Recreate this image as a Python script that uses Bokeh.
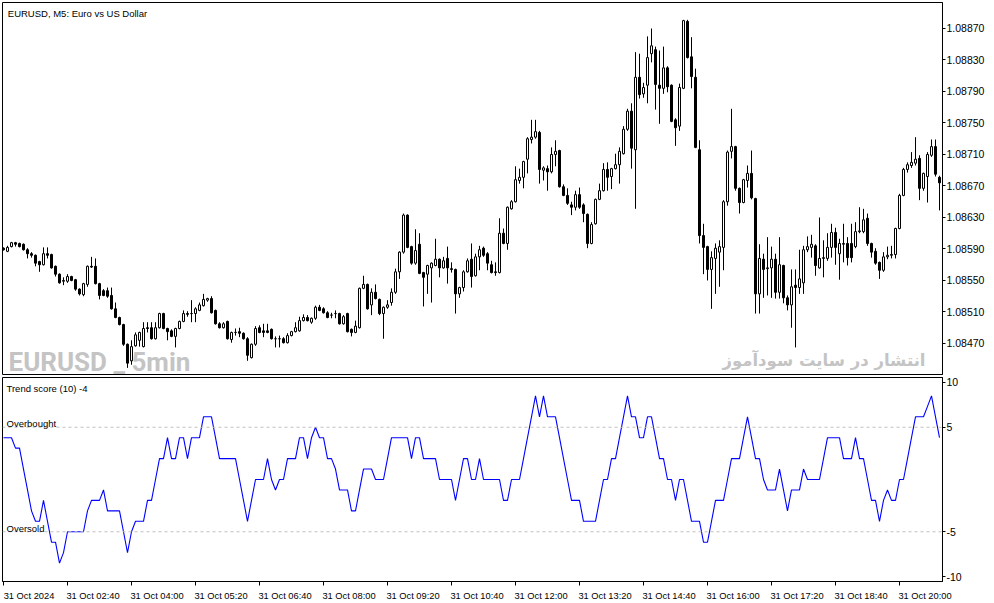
import numpy as np
from bokeh.plotting import figure
from bokeh.layouts import column
from bokeh.models import Range1d, FixedTicker, PrintfTickFormatter, Label, Span
from bokeh.embed import file_html
from bokeh.resources import INLINE

# ---------------- data (prices in points, 1 point = 0.00001) ----------------
open_pts = [108591,108587,108593,108598,108597,108596,108589,108584,108582,108574,
108570,108584,108583,108568,108558,108549,108549,108555,108551,108539,
108532,108545,108568,108568,108546,108537,108537,108531,108514,108503,
108494,108469,108448,108467,108474,108466,108490,108490,108476,108490,
108508,108489,108486,108479,108489,108498,108508,108508,108508,108512,
108518,108525,108527,108512,108495,108490,108498,108475,108484,108485,
108483,108476,108452,108469,108490,108486,108486,108488,108476,108476,
108476,108471,108480,108485,108486,108499,108503,108497,108502,108516,
108514,108509,108506,108508,108508,108495,108508,108488,108484,108490,
108540,108545,108519,108535,108526,108508,108516,108522,108535,108561,
108586,108633,108593,108572,108596,108560,108558,108566,108569,108577,
108566,108578,108565,108564,108533,108541,108561,108577,108556,108580,
108591,108584,108570,108561,108560,108610,108597,108641,108650,108677,
108681,108704,108729,108732,108738,108690,108692,108688,108710,108715,
108669,108658,108646,108643,108659,108646,108634,108597,108622,108653,
108664,108691,108682,108692,108697,108711,108742,108765,108716,108808,
108787,108798,108838,108843,108798,108794,108820,108798,108754,108746,
108794,108879,108834,108808,108716,108607,108593,108564,108578,108586,
108592,108650,108714,108720,108667,108649,108677,108686,108654,108533,
108577,108565,108566,108577,108535,108569,108528,108519,108544,108541,
108547,108589,108592,108594,108566,108578,108578,108592,108611,108584,
108596,108597,108597,108593,108612,108612,108629,108597,108587,108573,
108563,108580,108582,108583,108616,108658,108691,108696,108699,108705,
108667,108682,108709,108720,108681]

high_pts = [108592,108594,108599,108599,108598,108597,108591,108586,108583,108575,
108592,108592,108584,108569,108559,108554,108558,108556,108552,108540,
108547,108569,108580,108578,108547,108539,108541,108541,108522,108504,
108495,108470,108474,108484,108485,108497,108497,108497,108497,108509,
108509,108490,108488,108490,108499,108512,108511,108525,108516,108522,
108533,108528,108530,108513,108497,108497,108499,108485,108489,108490,
108484,108478,108470,108492,108493,108495,108495,108489,108479,108480,
108478,108483,108486,108497,108504,108507,108506,108503,108518,108519,
108516,108511,108509,108512,108509,108506,108509,108489,108499,108541,
108556,108546,108540,108545,108527,108517,108525,108540,108565,108587,
108635,108634,108594,108615,108610,108561,108570,108573,108603,108578,
108580,108593,108573,108565,108542,108563,108578,108597,108584,108594,
108593,108586,108575,108573,108629,108616,108644,108652,108695,108692,
108702,108732,108754,108754,108740,108695,108696,108719,108728,108716,
108672,108667,108650,108664,108668,108648,108635,108624,108654,108673,
108699,108700,108693,108711,108719,108746,108768,108775,108840,108838,
108801,108860,108870,108847,108842,108847,108822,108799,108756,108800,
108881,108881,108859,108819,108728,108622,108594,108587,108597,108601,
108652,108715,108768,108721,108668,108679,108696,108715,108655,108596,
108584,108605,108593,108584,108605,108570,108531,108564,108564,108589,
108594,108606,108608,108596,108630,108601,108610,108622,108617,108603,
108622,108605,108622,108624,108643,108641,108635,108598,108591,108574,
108586,108593,108594,108617,108660,108693,108700,108713,108732,108709,
108687,108713,108729,108729,108683]

low_pts = [108588,108586,108592,108593,108592,108588,108578,108579,108568,108561,
108569,108578,108565,108555,108546,108544,108547,108549,108537,108531,
108530,108542,108566,108545,108526,108530,108528,108513,108502,108493,
108467,108439,108443,108466,108466,108465,108484,108475,108475,108489,
108488,108474,108478,108465,108488,108497,108504,108497,108497,108511,
108517,108523,108508,108494,108489,108489,108475,108471,108480,108478,
108475,108448,108451,108467,108483,108478,108483,108475,108465,108465,
108470,108470,108479,108484,108485,108498,108498,108495,108500,108511,
108508,108502,108502,108502,108494,108494,108484,108479,108483,108489,
108539,108513,108506,108526,108506,108476,108514,108518,108533,108552,
108584,108591,108570,108570,108558,108517,108533,108522,108568,108554,
108565,108546,108560,108508,108528,108536,108560,108541,108555,108563,
108580,108563,108559,108556,108559,108596,108589,108640,108649,108673,
108667,108686,108724,108730,108673,108677,108664,108686,108695,108668,
108657,108646,108633,108639,108641,108624,108591,108596,108621,108652,
108663,108664,108666,108691,108673,108710,108740,108692,108641,108781,
108782,108775,108827,108767,108749,108787,108789,108751,108721,108740,
108793,108832,108794,108718,108597,108558,108550,108514,108533,108542,
108563,108645,108705,108664,108635,108648,108668,108653,108508,108508,
108528,108531,108528,108527,108527,108521,108512,108490,108465,108533,
108533,108586,108579,108556,108565,108554,108575,108579,108570,108551,
108573,108569,108573,108591,108610,108610,108594,108579,108570,108552,
108561,108577,108578,108578,108615,108657,108687,108693,108696,108652,
108664,108649,108707,108682,108639]

close_pts = [108589,108592,108598,108596,108593,108589,108584,108582,108572,108570,
108584,108582,108566,108558,108547,108550,108555,108550,108539,108533,
108546,108568,108567,108546,108531,108531,108530,108514,108503,108494,
108469,108445,108466,108481,108484,108489,108489,108476,108490,108508,
108489,108485,108479,108489,108498,108508,108507,108508,108514,108519,
108526,108527,108509,108495,108490,108495,108476,108484,108484,108483,
108476,108455,108469,108489,108484,108484,108484,108476,108476,108476,
108471,108480,108485,108490,108499,108503,108499,108502,108516,108512,
108509,108503,108506,108508,108495,108504,108485,108484,108492,108540,
108545,108514,108535,108527,108508,108516,108519,108535,108561,108586,
108633,108592,108572,108588,108559,108554,108569,108572,108577,108566,
108575,108566,108564,108533,108541,108561,108575,108555,108580,108589,
108582,108572,108560,108560,108610,108597,108643,108650,108678,108681,
108701,108730,108732,108739,108691,108693,108688,108710,108714,108669,
108658,108648,108643,108659,108643,108635,108597,108621,108653,108664,
108691,108681,108692,108697,108714,108742,108765,108718,108808,108786,
108795,108833,108848,108799,108794,108820,108796,108752,108744,108795,
108880,108833,108809,108719,108607,108592,108564,108579,108591,108593,
108650,108713,108720,108667,108649,108678,108686,108655,108533,108578,
108564,108566,108577,108535,108570,108528,108519,108542,108541,108552,
108589,108593,108596,108569,108578,108579,108592,108611,108592,108597,
108597,108579,108579,108612,108613,108627,108597,108586,108572,108563,
108580,108582,108583,108616,108658,108691,108697,108700,108704,108667,
108686,108710,108720,108685,108674]

trend_score = [4,4,4,3,3,1,-1,-3,-4,-4,
-2,-4,-6,-6,-8,-7,-5,-5,-5,-5,
-5,-3,-2,-2,-2,-1,-3,-3,-3,-3,
-5,-7,-5,-4,-4,-4,-2,-2,0,2,
2,4,2,2,4,4,2,4,4,4,
6,6,6,4,2,2,2,2,2,0,
-2,-4,-2,0,0,0,2,0,-1,0,
0,2,2,2,4,4,2,4,5,4,
4,2,2,1,-1,-1,-1,-3,-3,-1,
1,1,1,0,0,0,2,4,4,4,
4,4,2,4,4,2,2,2,2,0,
0,0,0,-2,0,2,2,0,0,2,
0,0,0,0,0,-2,-2,0,0,0,
2,4,6,8,6,8,6,6,6,4,
2,0,-2,-2,-2,-4,-4,-4,-4,-2,
0,0,2,2,4,6,8,6,6,4,
4,6,6,4,2,2,0,0,-2,0,
0,-2,-4,-4,-4,-6,-6,-4,-2,-2,
-2,0,2,2,2,4,6,4,2,2,
0,-1,-1,-1,1,-1,-3,-1,-1,-1,
1,0,0,0,0,2,4,4,4,4,
2,2,2,4,2,2,0,-2,-2,-4,
-2,-1,-2,-2,0,0,2,4,6,6,
6,7,8,6,4]

time_labels = ["31 Oct 2024", "31 Oct 02:40", "31 Oct 04:00", "31 Oct 05:20",
               "31 Oct 06:40", "31 Oct 08:00", "31 Oct 09:20", "31 Oct 10:40",
               "31 Oct 12:00", "31 Oct 13:20", "31 Oct 14:40", "31 Oct 16:00",
               "31 Oct 17:20", "31 Oct 18:40", "31 Oct 20:00"]
bars_per_label = 16
price_ticks = [1.08470, 1.08510, 1.08550, 1.08590, 1.08630, 1.08670,
               1.08710, 1.08750, 1.08790, 1.08830, 1.08870]
overbought, oversold = 5, -5
score_scale_labels = {9.29: "10", 5: "5", -5: "-5", -9.29: "-10"}

title_text = "EURUSD, M5:  Euro vs US Dollar"
indicator_text = "Trend score (10) -4"
watermark_en = "EURUSD _ 5min"
watermark_fa = "انتشار در سایت سودآموز"

# ---------------- build ----------------
o = np.array(open_pts) / 1e5
h = np.array(high_pts) / 1e5
l = np.array(low_pts) / 1e5
c = np.array(close_pts) / 1e5
idx = np.arange(len(o))
up = c >= o
n = len(o)

FONT = "Liberation Sans"
W = 994
xr = Range1d(-0.25, n - 0.25)
# time labels start at their tick (MT style): the axis centres its labels,
# so they are placed half a label width (in bars) right of the tick
LABEL_SHIFT = 6.375


def style_frame(p):
    p.grid.visible = False
    p.outline_line_color = "black"
    p.outline_line_alpha = 1
    p.background_fill_color = "white"
    p.border_fill_color = "white"


def style_right_axis(ax):
    ax.major_label_text_font = FONT
    ax.major_label_text_font_size = "10.5px"
    ax.major_label_text_color = "black"
    ax.major_tick_out = 3
    ax.major_tick_in = 0
    ax.minor_tick_out = 0
    ax.minor_tick_in = 0
    ax.major_label_standoff = 1
    ax.axis_line_color = "black"
    ax.major_tick_line_color = "black"


# ---- main price panel ----
p1 = figure(width=W, height=375, x_range=xr, y_range=Range1d(1.084306, 1.089030),
            output_backend="svg", toolbar_location=None, tools="",
            x_axis_location=None, y_axis_location="right",
            min_border_left=2, min_border_right=52, min_border_top=2, min_border_bottom=1)
style_frame(p1)

p1.add_layout(Label(x=6, y=12.5, x_units="screen", y_units="screen", text=watermark_en,
                    text_font="Roboto", text_font_style="bold", text_font_size="26px",
                    text_color="#c4c4c4", text_baseline="alphabetic", level="underlay"))
p1.add_layout(Label(x=923, y=14, x_units="screen", y_units="screen", text=watermark_fa,
                    text_font="DejaVu Sans", text_font_style="bold", text_font_size="16.5px",
                    text_color="#c4c4c4", text_align="right", text_baseline="alphabetic",
                    level="underlay"))

p1.segment(x0=idx, y0=l, x1=idx, y1=h, line_color="black", line_width=1)
p1.vbar(x=idx[up], width=0.5, bottom=o[up], top=c[up], fill_color="white",
        line_color="black", line_width=1)
p1.vbar(x=idx[~up], width=0.5, bottom=o[~up], top=c[~up], fill_color="black",
        line_color="black", line_width=1)

ya = p1.yaxis[0]
ya.ticker = FixedTicker(ticks=price_ticks)
ya.formatter = PrintfTickFormatter(format="%.5f")
style_right_axis(ya)

p1.add_layout(Label(x=5.3, y=361.3, x_units="screen", y_units="screen", text=title_text,
                    text_font=FONT, text_font_size="9.5px", text_color="black",
                    text_baseline="alphabetic"))

# ---- indicator panel with the time scale ----
p2 = figure(width=W, height=228, x_range=xr, y_range=Range1d(-9.76, 9.76),
            output_backend="svg", toolbar_location=None, tools="",
            x_axis_location="below", y_axis_location="right",
            min_border_left=2, min_border_right=52, min_border_top=2, min_border_bottom=21)
style_frame(p2)

for lev in (overbought, oversold):
    p2.add_layout(Span(location=lev, dimension="width", line_color="#c0c0c0",
                       line_dash="3 3", line_width=1))

p2.line(idx, trend_score, line_color="#0000ff", line_width=1.1)

ya2 = p2.yaxis[0]
ya2.ticker = FixedTicker(ticks=list(score_scale_labels.keys()))
ya2.major_label_overrides = score_scale_labels
style_right_axis(ya2)

for txt, yy in ((indicator_text, 192.7), ("Overbought", 157.7), ("Oversold", 52.7)):
    p2.add_layout(Label(x=4, y=yy, x_units="screen", y_units="screen", text=txt,
                        text_font=FONT, text_font_size="9.5px", text_color="black",
                        text_baseline="alphabetic"))

tick_bars = [k * bars_per_label for k in range(len(time_labels))]
label_pos = [tb + LABEL_SHIFT for tb in tick_bars]
xa = p2.xaxis[0]
xa.ticker = FixedTicker(ticks=label_pos, minor_ticks=tick_bars)
xa.major_label_overrides = dict(zip(label_pos, time_labels))
xa.major_tick_out = 0
xa.major_tick_in = 0
xa.major_tick_line_color = None
xa.minor_tick_out = 4
xa.minor_tick_in = 0
xa.minor_tick_line_color = "black"
xa.axis_line_color = "black"
xa.major_label_text_font = FONT
xa.major_label_text_font_size = "9.3px"
xa.major_label_text_color = "black"
xa.major_label_standoff = 5

layout = column(p1, p2, spacing=0)
open("out.html", "w", encoding="utf-8").write(file_html(layout, INLINE))
